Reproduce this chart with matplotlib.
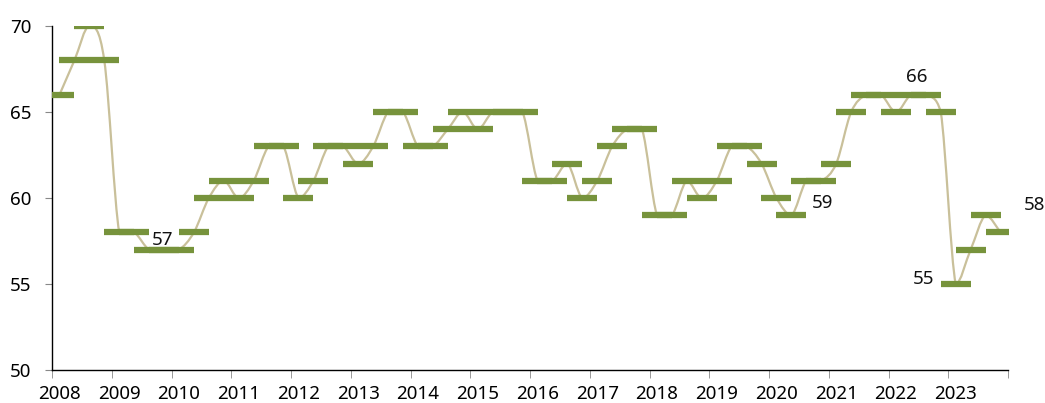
import numpy as np
import matplotlib
matplotlib.use("Agg")
import matplotlib.pyplot as plt
from matplotlib.path import Path
from matplotlib.patches import PathPatch

plt.rcParams['font.family'] = ['Noto Sans', 'DejaVu Sans']

years = list(range(2008, 2024))
# quarterly values, 2008 Q1 .. 2023 Q4
values = [66, 68, 70, 68,
          58, 58, 57, 57,
          57, 58, 60, 61,
          60, 61, 63, 63,
          60, 61, 63, 63,
          62, 63, 65, 65,
          63, 63, 64, 65,
          64, 65, 65, 65,
          61, 61, 62, 60,
          61, 63, 64, 64,
          59, 59, 61, 60,
          61, 63, 63, 62,
          60, 59, 61, 61,
          62, 65, 66, 66,
          65, 66, 66, 65,
          55, 57, 59, 58]
# labelled points: index, text offset in px (dx, dy up)
labels = {7: (-1, 10), 49: (31, 12), 57: (6, 18), 60: (-32, 5), 63: (34, 27)}

line_col = '#c9c09a'
mark_col = '#77933c'

x = np.arange(len(values))
y = np.array(values, dtype=float)

fig = plt.figure(figsize=(10.45, 4.03), dpi=100)
ax = fig.add_axes([52/1045, 33/403, 956/1045, 344/403])

# smooth line: bezier segments through each point, kept within each segment's range
verts = [(x[0], y[0])]
codes = [Path.MOVETO]
n = len(x)
for i in range(n - 1):
    p0 = np.array([x[max(i-1, 0)], y[max(i-1, 0)]])
    p1 = np.array([x[i], y[i]])
    p2 = np.array([x[i+1], y[i+1]])
    p3 = np.array([x[min(i+2, n-1)], y[min(i+2, n-1)]])
    c1 = p1 + (p2 - p0) / 6.0
    c2 = p2 - (p3 - p1) / 6.0
    lo, hi = min(p1[1], p2[1]), max(p1[1], p2[1])
    c1[1] = np.clip(c1[1], lo, hi)
    c2[1] = np.clip(c2[1], lo, hi)
    verts += [tuple(c1), tuple(c2), tuple(p2)]
    codes += [Path.CURVE4] * 3
ax.add_patch(PathPatch(Path(verts, codes), facecolor='none', edgecolor=line_col, lw=1.6, zorder=2))

ax.plot(x, y, linestyle='none', marker='_', markersize=22, markeredgewidth=4.5,
        color=mark_col, zorder=3)

for i, (dx, dy) in labels.items():
    ax.annotate(str(values[i]), (x[i], y[i]), xytext=(dx*0.72, dy*0.72),
                textcoords='offset points', ha='center', va='center',
                fontsize=13.5, color='#111111', zorder=4)

ax.set_xlim(-0.5, n - 0.5)
ax.set_ylim(50, 70)
ax.set_yticks([50, 55, 60, 65, 70])
ax.set_xticks(np.arange(0, n, 4))
ax.set_xticklabels([str(yr) for yr in years])
ax.set_xticks(np.arange(-0.5, n, 4), minor=True)
ax.tick_params(axis='x', which='major', length=0, pad=11, labelsize=13.5)
ax.tick_params(axis='x', which='minor', length=6, color='#888888', direction='out')
ax.tick_params(axis='y', length=5, color='#888888', pad=10, labelsize=13.5)

for s in ['top', 'right']:
    ax.spines[s].set_visible(False)
for s in ['left', 'bottom']:
    ax.spines[s].set_color('#000000')
    ax.spines[s].set_linewidth(1.0)

fig.savefig('out.png', dpi=100)
